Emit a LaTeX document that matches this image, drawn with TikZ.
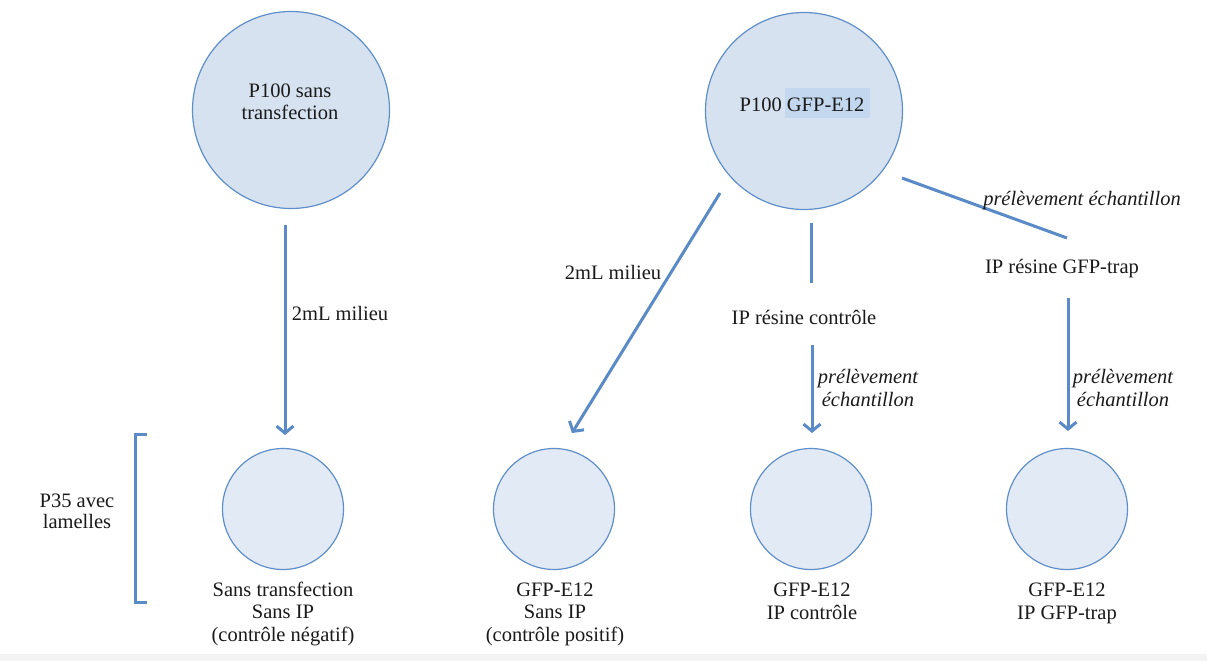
\documentclass[tikz,border=0pt]{standalone}
\usepackage{fontspec}
\setmainfont{Liberation Serif}
\usetikzlibrary{arrows.meta}
\definecolor{lineblue}{HTML}{5A8BC6}
\definecolor{fillbig}{HTML}{D6E2F0}
\definecolor{fillsmall}{HTML}{E2EAF5}
\definecolor{circedge}{HTML}{5F8FC9}
\definecolor{hl}{HTML}{C3D8EF}
\definecolor{txt}{HTML}{1A1A1A}
\definecolor{band}{HTML}{F3F3F3}
\begin{document}
\begin{tikzpicture}[x=1pt,y=-1pt,
  bigc/.style={circle, draw=circedge, line width=1.2pt, fill=fillbig, minimum size=197pt, inner sep=0pt},
  smallc/.style={circle, draw=circedge, line width=1.2pt, fill=fillsmall, minimum size=121pt, inner sep=0pt},
  lbl/.style={font=\fontsize{20.5}{22.5}\selectfont, text=txt, align=center, inner sep=0pt, anchor=base},
  ital/.style={lbl, font=\fontsize{20.5}{22.5}\selectfont\itshape},
  conn/.style={draw=lineblue, line width=3pt},
  arr/.style={conn, -{Straight Barb[length=7pt,width=17pt]}}
]
\useasboundingbox (0,0) rectangle (1207,661);
\fill[band] (0,654) rectangle (1207,661);

% big circles
\node[bigc] (p100a) at (291,110) {};
\node[lbl, font=\fontsize{20.5}{21.5}\selectfont] (p100a-t) at (290,119) {P100 sans\\transfection};
\node[bigc] (p100b) at (804,111) {};
\node[fill=hl, minimum width=85pt, minimum height=30pt, inner sep=0pt] (hlbox) at (827.5,103) {};
\node[lbl] (p100b-t) at (802,111) {P100 GFP-E12};

% small circles
\node[smallc] (sA) at (283,509) {};
\node[smallc] (sB) at (554,509) {};
\node[smallc] (sC) at (811,509) {};
\node[smallc] (sD) at (1067,509) {};

% bottom labels (base = last line)
\node[lbl] (sA-t) at (283,641) {Sans transfection\\Sans IP\\(contrôle négatif)};
\node[lbl] (sB-t) at (555,641) {GFP-E12\\Sans IP\\(contrôle positif)};
\node[lbl] (sC-t) at (812,619) {GFP-E12\\IP contrôle};
\node[lbl] (sD-t) at (1067,619) {GFP-E12\\IP GFP-trap};

% bracket and its label
\draw[conn] (147,434) -- (135,434) -- (135,602) -- (147,602);
\node[lbl, font=\fontsize{20.5}{21}\selectfont] (p35) at (77,528) {P35 avec\\lamelles};

% intermediate labels
\node[lbl] (ipc) at (804,324) {IP résine contrôle};
\node[lbl] (ipg) at (1062,273) {IP résine GFP-trap};

% connector end points
\coordinate (a1) at (285,225); \coordinate (a2) at (285,435);
\coordinate (b1) at (720,193); \coordinate (b2) at (572,433);
\coordinate (c1) at (811,223); \coordinate (c2) at (811,283);
\coordinate (d1) at (812,345); \coordinate (d2) at (812,433);
\coordinate (e1) at (902,178); \coordinate (e2) at (1067,238);
\coordinate (f1) at (1068,298); \coordinate (f2) at (1068,431);

\draw[arr] (a1) -- (a2);
\draw[arr] (b1) -- (b2);
\draw[conn] (c1) -- (c2);
\draw[arr] (d1) -- (d2);
\draw[conn] (e1) -- (e2);
\draw[arr] (f1) -- (f2);

% connector labels
\node[lbl] (la) at (340,320) {2mL milieu};
\node[lbl] (lb) at (613,279) {2mL milieu};
\node[ital] (ld) at (868,406) {prélèvement\\échantillon};
\node[ital] (le) at (1082,205) {prélèvement échantillon};
\node[ital] (lf) at (1123,406) {prélèvement\\échantillon};
\end{tikzpicture}
\end{document}
